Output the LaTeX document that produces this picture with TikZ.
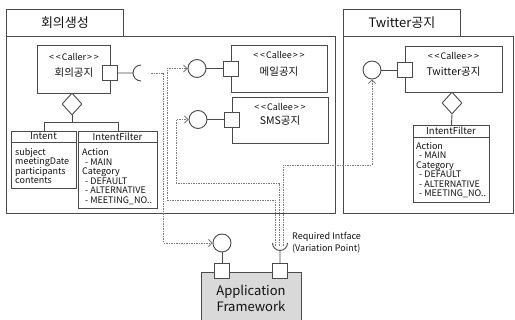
\documentclass[tikz,border=0pt]{standalone}
\usepackage{fontspec}
\setmainfont{Noto Sans CJK KR}
\usetikzlibrary{shapes.geometric,arrows.meta}

\definecolor{inkc}{HTML}{4A4A4A}
\definecolor{dashc}{HTML}{7A7A7A}
\definecolor{textc}{HTML}{111111}
\definecolor{fillc}{HTML}{D9D9D9}

% stereotype text with separate, spaced angle brackets
\newcommand{\stereo}[1]{<\kern1.8pt<\kern1pt#1\kern1pt>\kern1.8pt>}

\begin{document}
\begin{tikzpicture}[x=1pt,y=-1pt,
  box/.style={draw=inkc, line width=0.9pt, fill=white, inner sep=0pt, anchor=north west},
  port/.style={draw=inkc, line width=0.9pt, fill=white, minimum size=15pt, inner sep=0pt},
  lolly/.style={circle, draw=inkc, line width=0.9pt, fill=white, minimum size=18pt, inner sep=0pt},
  gem/.style={diamond, draw=inkc, line width=0.9pt, fill=white, minimum width=20pt, minimum height=22pt, inner sep=0pt},
  wire/.style={draw=inkc, line width=0.9pt},
  dep/.style={draw=dashc, line width=0.8pt, dash pattern=on 1.5pt off 1pt,
    -{Straight Barb[length=3.5pt,width=7pt]}},
  lbl/.style={inner sep=0pt, text=textc, font=\fontsize{9}{11}\selectfont},
  klbl/.style={lbl, font=\fontsize{10.5}{12}\selectfont},
  hdr/.style={lbl, font=\fontsize{9.5}{11}\selectfont},
  attr/.style={lbl, anchor=base west, font=\fontsize{9}{10}\selectfont},
  tabf/.style={font=\fontsize{13}{15}\selectfont, text=textc}
]
\useasboundingbox (0,0) rectangle (515,320);

% ---- package: 회의생성
\node[box, tabf, minimum width=117pt, minimum height=27pt] (tabL) at (6,9) {회의생성};
\node[box, minimum width=329pt, minimum height=177pt] (pkgL) at (6,36) {};

% ---- package: Twitter공지
\node[box, tabf, minimum width=117pt, minimum height=27pt] (tabT) at (343,9) {Twitter공지};
\node[box, minimum width=170pt, minimum height=177pt] (pkgT) at (343,36) {};

% ---- caller component
\node[box, minimum width=73pt, minimum height=48pt] (caller) at (37,45) {};
\node[lbl] (callerS) at (74,57) {\stereo{Caller}};
\node[klbl] (callerN) at (74,73) {회의공지};
\node[port] (cp) at (110,73) {};
\coordinate (csk) at (133,73);
\draw[wire] (cp.east) -- (csk)
  arc[start angle=180, end angle=90, radius=8]
  (csk) arc[start angle=180, end angle=270, radius=8];

% composition to Intent / IntentFilter
\node[gem] (dL) at (72,104) {};
\coordinate (jL) at (72,122);
\node[box, minimum width=65pt, minimum height=57pt] (intent) at (11,131) {};
\node[box, minimum width=79pt, minimum height=77pt] (ifL) at (78,131) {};
\draw[wire] (dL.south) -- (jL) -| (intent.north);
\draw[wire] (jL) -| (ifL.north);
\draw[wire] (11,142) -- (76,142);
\draw[wire] (78,142) -- (157,142);
\node[hdr] (intentH) at (43.5,136.5) {Intent};
\node[hdr] (ifLH) at (117.5,136.5) {IntentFilter};
\foreach \t [count=\k from 0] in {subject,meetingDate,participants,contents}
  \node[attr] (ia\k) at (15,{155.5+9.5*\k}) {\t};
\foreach \t/\dx [count=\k from 0] in {Action/0,- MAIN/3,Category/0,- DEFAULT/3,- ALTERNATIVE/3,- MEETING\_NO../3}
  \node[attr] (ifa\k) at ({82+\dx},{155.5+9.6*\k}) {\t};

% ---- callee: 메일공지
\node[box, minimum width=96pt, minimum height=47pt] (mail) at (231,45) {};
\node[lbl] (mailS) at (279,55) {\stereo{Callee}};
\node[klbl] (mailN) at (279,72) {메일공지};
\node[port] (mp) at (231,68.5) {};
\node[lolly] (mc) at (197,68.5) {};
\draw[wire] (mc) -- (mp);

% ---- callee: SMS공지
\node[box, minimum width=96pt, minimum height=46pt] (sms) at (232,97) {};
\node[lbl] (smsS) at (280,107) {\stereo{Callee}};
\node[klbl] (smsN) at (280,121) {SMS공지};
\node[port] (sp) at (232,119.5) {};
\node[lolly] (sc) at (198,119.5) {};
\draw[wire] (sc) -- (sp);

% ---- callee: Twitter공지
\node[box, minimum width=97pt, minimum height=46pt] (tw) at (405,46) {};
\node[lbl] (twS) at (453.5,56) {\stereo{Callee}};
\node[klbl] (twN) at (453.5,72) {Twitter공지};
\node[port] (tp) at (405,70) {};
\node[lolly] (tc) at (372,70) {};
\draw[wire] (tc) -- (tp);
\node[gem] (dT) at (452,103) {};
\node[box, minimum width=76pt, minimum height=77pt] (ifT) at (413,125) {};
\draw[wire] (dT.south) -- (ifT.north);
\draw[wire] (413,137) -- (489,137);
\node[hdr] (ifTH) at (451,131) {IntentFilter};
\foreach \t/\dx [count=\k from 0] in {Action/0,- MAIN/3,Category/0,- DEFAULT/3,- ALTERNATIVE/3,- MEETING\_NO../3}
  \node[attr] (ifb\k) at ({416+\dx},{149.5+9.4*\k}) {\t};

% ---- Application Framework
\node[box, fill=fillc, minimum width=100pt, minimum height=52pt] (app) at (201,272) {};
\node[lbl, font=\fontsize{13}{16.5}\selectfont, align=center] (appN) at (251,298.5) {Application\\Framework};
\node[port] (ap1) at (222,271) {};
\node[port] (ap2) at (280,271) {};
\node[lolly] (afc) at (222,243) {};
\draw[wire] (afc) -- (ap1);
\coordinate (ask) at (280,250.5);
\draw[wire] (ap2) -- (ask)
  arc[start angle=90, end angle=0, radius=7.5]
  (ask) arc[start angle=90, end angle=180, radius=7.5];
\node[lbl, anchor=west] (req1) at (292,237) {Required Intface};
\node[lbl, anchor=west] (req2) at (292,249) {(Variation Point)};

% ---- dependencies
\coordinate (d0) at (151,73);
\coordinate (d1) at (163,73);
\draw[dep] (d0) -- (d1) |- (afc.west);

\coordinate (r1) at (275,246);
\coordinate (k1) at (167,200);
\draw[dep] (r1) |- (k1) |- (mc.west);

\coordinate (r2) at (279,246);
\coordinate (k2) at (176,183);
\draw[dep] (r2) |- (k2) |- (sc.west);

\coordinate (r3) at (283,246);
\coordinate (k3) at (372,165);
\draw[dep] (r3) |- (k3) -- (tc.south);
\end{tikzpicture}
\end{document}
